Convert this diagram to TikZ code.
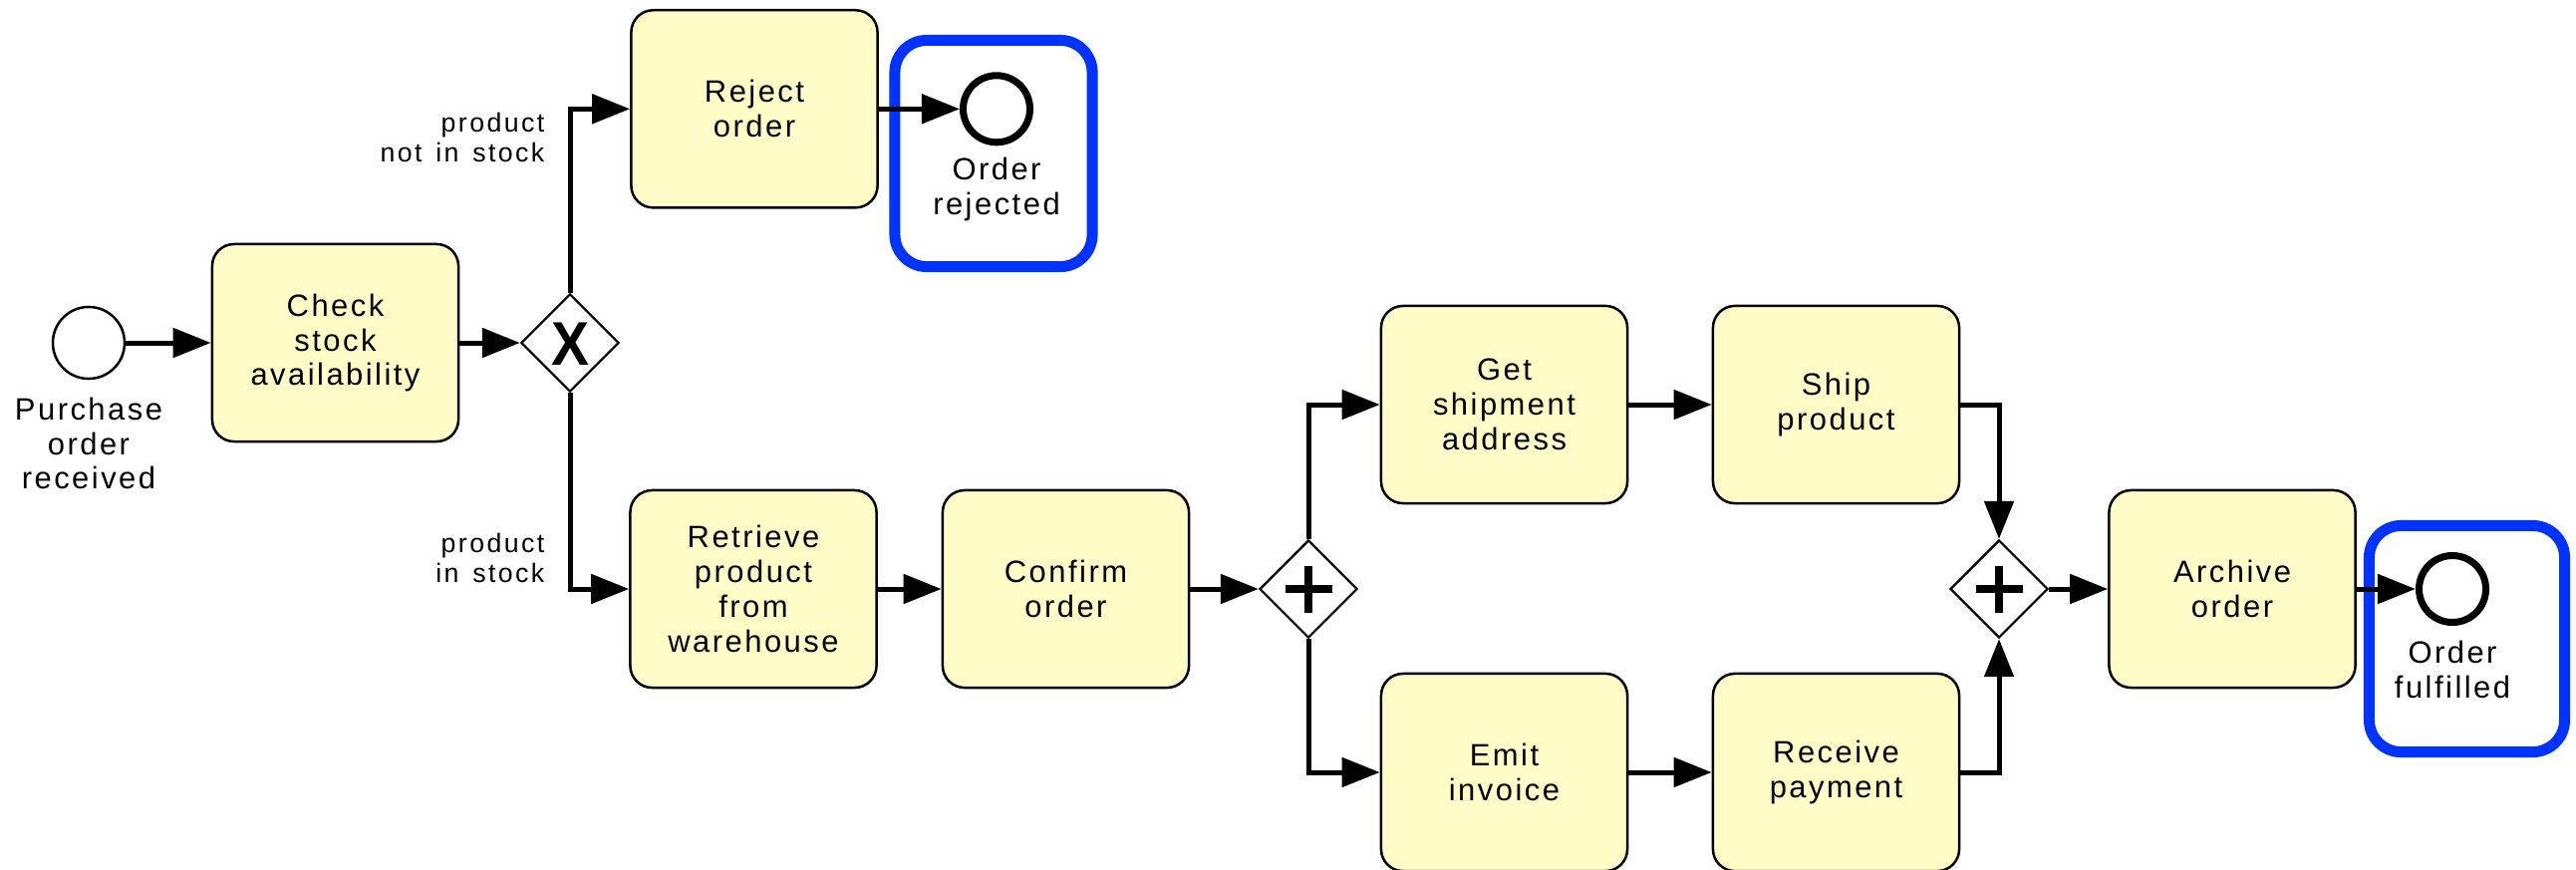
\documentclass[tikz,border=0pt]{standalone}
\usepackage{fontspec}
\setmainfont{Liberation Sans}[LetterSpace=8]
\newfontfamily\lblfont{Liberation Sans}[LetterSpace=9, WordSpace=1.4]
\newfontfamily\markfont{Liberation Sans}
\usetikzlibrary{arrows.meta,shapes.geometric}
\definecolor{taskfill}{RGB}{255,252,200}
\definecolor{hlblue}{RGB}{0,51,255}
\newcommand\maintext{\fontsize{8.8pt}{9.9pt}\selectfont}
\newcommand\lbltext{\lblfont\fontsize{7.6pt}{8.3pt}\selectfont}
\tikzset{
  task/.style={draw, line width=0.025cm, fill=taskfill, rounded corners=0.22cm,
    minimum width=2.47cm, minimum height=1.98cm, align=center, inner sep=0pt, font=\maintext},
  startev/.style={circle, draw, line width=0.025cm, fill=white, minimum size=0.72cm, inner sep=0pt},
  endev/.style={circle, draw, line width=0.07cm, fill=white, minimum size=0.67cm, inner sep=0pt},
  gateway/.style={diamond, aspect=1, draw, line width=0.022cm, fill=white,
    minimum width=0.98cm, minimum height=0.98cm, inner sep=0pt},
  xmark/.style={font=\markfont\bfseries\fontsize{17.6pt}{17.6pt}\selectfont, xscale=0.92},
  plusmark/.style={line width=0.076cm},
  flow/.style={line width=0.05cm, -{Triangle[length=0.38cm,width=0.29cm]}},
  evtext/.style={align=center, inner sep=0pt, font=\maintext},
  lbl/.style={align=right, inner sep=0pt, font=\lbltext},
  hlbox/.style={draw=hlblue, line width=0.11cm, rounded corners=0.32cm, inner sep=0pt}
}
\begin{document}
\begin{tikzpicture}[x=0.01cm, y=-0.01cm]
\useasboundingbox (0,0) rectangle (2585,873);
% highlight boxes
\node[hlbox, minimum width=1.98cm, minimum height=2.27cm] (hl1) at (997,154) {};
\node[hlbox, minimum width=1.96cm, minimum height=2.27cm] (hl2) at (2475.5,641) {};
% events
\node[startev] (start) at (89,344) {};
\node[evtext] (starttxt) at (89,445) {Purchase\\order\\received};
\node[endev] (end1) at (1000,109.3) {};
\node[evtext] (end1txt) at (1000,190) {Order\\rejected};
\node[endev] (end2) at (2461,591) {};
\node[evtext] (end2txt) at (2461,672) {Order\\fulfilled};
% tasks
\node[task] (check) at (336.5,344) {Check\\stock\\availability};
\node[task] (reject) at (757,109.3) {Reject\\order};
\node[task] (retrieve) at (756,591) {Retrieve\\product\\from\\warehouse};
\node[task] (confirm) at (1069.5,591) {Confirm\\order};
\node[task] (getship) at (1509.5,406) {Get\\shipment\\address};
\node[task] (ship) at (1842.5,406) {Ship\\product};
\node[task] (emit) at (1509.5,775) {Emit\\invoice};
\node[task] (receive) at (1842.5,775) {Receive\\payment};
\node[task] (archive) at (2240,591) {Archive\\order};
% gateways
\node[gateway] (gx) at (572,344) {};
\node[xmark] (gxm) at (572,345.5) {X};
\node[gateway] (gp1) at (1313,591) {};
\draw[plusmark] (gp1) ++(-23.5,0) -- ++(47,0) (gp1) ++(0,-23.5) -- ++(0,47);
\node[gateway] (gp2) at (2006,591) {};
\draw[plusmark] (gp2) ++(-23.5,0) -- ++(47,0) (gp2) ++(0,-23.5) -- ++(0,47);
% labels
\node[lbl, anchor=east] (lnot) at (547,138) {product\\not in stock};
\node[lbl, anchor=east] (lin) at (547,560) {product\\in stock};
% flows
\draw[flow] (start) -- (check);
\draw[flow] (check) -- (gx);
\draw[flow] (gx) |- (reject);
\draw[flow] (gx) |- (retrieve);
\draw[flow] (reject) -- (end1);
\draw[flow] (retrieve) -- (confirm);
\draw[flow] (confirm) -- (gp1);
\draw[flow] (gp1) |- (getship);
\draw[flow] (gp1) |- (emit);
\draw[flow] (getship) -- (ship);
\draw[flow] (emit) -- (receive);
\draw[flow] (ship) -| (gp2);
\draw[flow] (receive) -| (gp2);
\draw[flow] (gp2) -- (archive);
\draw[flow] (archive) -- (end2);
\end{tikzpicture}
\end{document}
